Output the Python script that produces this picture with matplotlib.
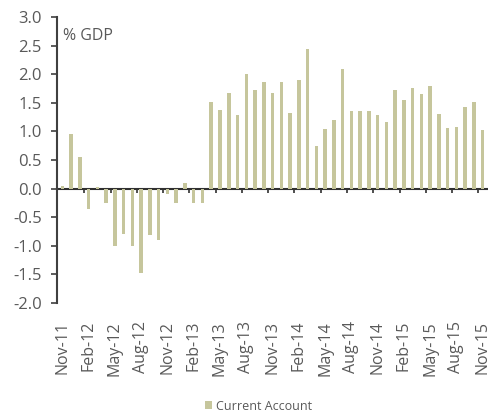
import matplotlib
matplotlib.use("Agg")
import matplotlib.pyplot as plt
import numpy as np

months = ["Nov-11","Dec-11","Jan-12","Feb-12","Mar-12","Apr-12","May-12","Jun-12","Jul-12",
          "Aug-12","Sep-12","Oct-12","Nov-12","Dec-12","Jan-13","Feb-13","Mar-13","Apr-13",
          "May-13","Jun-13","Jul-13","Aug-13","Sep-13","Oct-13","Nov-13","Dec-13","Jan-14",
          "Feb-14","Mar-14","Apr-14","May-14","Jun-14","Jul-14","Aug-14","Sep-14","Oct-14",
          "Nov-14","Dec-14","Jan-15","Feb-15","Mar-15","Apr-15","May-15","Jun-15","Jul-15",
          "Aug-15","Sep-15","Oct-15","Nov-15"]
current_account = [0.05, 0.95, 0.55, -0.35, 0.02, -0.25, -1.0, -0.8, -1.0,
                   -1.48, -0.82, -0.9, -0.1, -0.25, 0.1, -0.25, -0.25, 1.52,
                   1.37, 1.68, 1.28, 2.0, 1.73, 1.87, 1.67, 1.87, 1.32,
                   1.9, 2.45, 0.75, 1.05, 1.2, 2.1, 1.35, 1.35, 1.35,
                   1.28, 1.17, 1.73, 1.55, 1.76, 1.66, 1.8, 1.3, 1.06,
                   1.07, 1.42, 1.52, 1.03]
y_ticks = [3.0, 2.5, 2.0, 1.5, 1.0, 0.5, 0.0, -0.5, -1.0, -1.5, -2.0]

plt.rcParams['font.family'] = ['Open Sans', 'DejaVu Sans']
grey = '#595959'
bar_color = '#c6c69c'

fig = plt.figure(figsize=(4.88, 4.19), dpi=100)
ax = fig.add_axes([0.117, 0.277, 0.883, 0.682])

x = np.arange(len(months))
ax.bar(x, current_account, width=0.4, color=bar_color, label='Current Account', zorder=2)

ax.set_ylim(-2.0, 3.0)
ax.set_xlim(-0.6, 48.6)
ax.set_yticks(y_ticks)
ax.set_yticklabels([f"{v:.1f}" for v in y_ticks], color=grey, fontsize=12)
ax.tick_params(axis='y', direction='out', length=4, width=1.2, color='#404040', pad=7)

for s in ['top', 'right']:
    ax.spines[s].set_visible(False)
ax.spines['bottom'].set_visible(False)
ax.spines['left'].set_color('#404040')
ax.spines['left'].set_linewidth(1.5)

ax.set_xticks(x[::3])
ax.set_xticklabels(months[::3], rotation=90, color=grey, fontsize=11.5)
ax.tick_params(axis='x', length=0, pad=13)

sec = ax.secondary_xaxis(0.4)
sec.set_xticks(x[3::3] - 0.5)
sec.set_xticklabels([])
sec.tick_params(axis='x', direction='out', length=3, width=1.2, color='#303030')
sec.spines['bottom'].set_color('#303030')
sec.spines['bottom'].set_linewidth(1.5)

ax.text(0.05, 2.67, '% GDP', color=grey, fontsize=11.5, va='center', ha='left')

fig.legend(loc='lower center', bbox_to_anchor=(0.53, -0.012), frameon=False,
           fontsize=9, handlelength=0.6, handleheight=0.6, handletextpad=0.3,
           labelcolor=grey)

fig.savefig('out.png', dpi=100)
